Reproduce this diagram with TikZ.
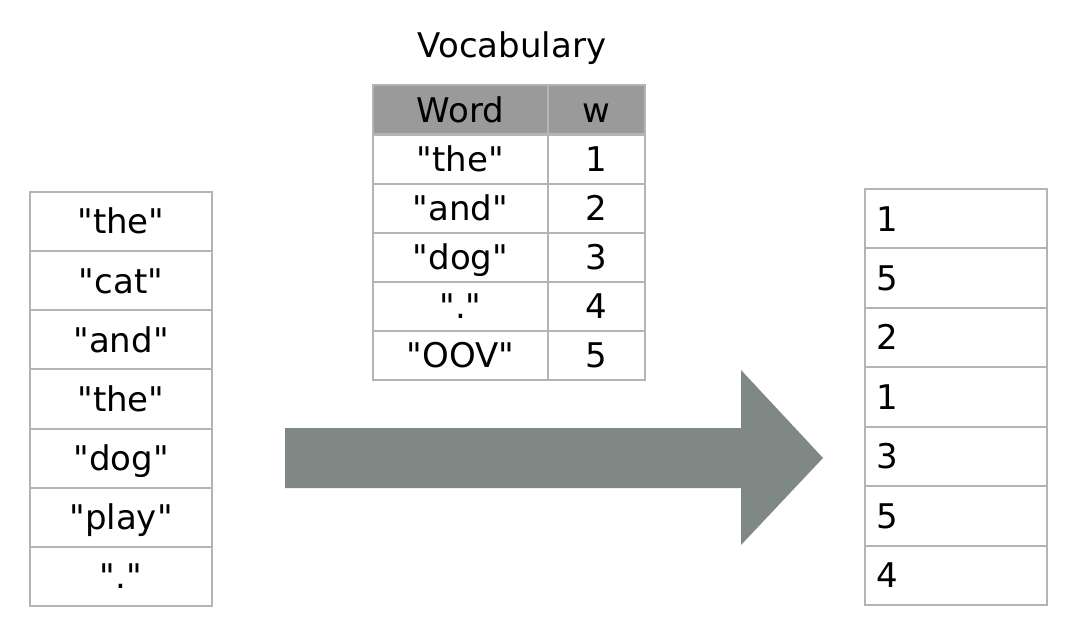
\documentclass[tikz,border=0pt]{standalone}
\usepackage{fontspec}
\setmainfont{DejaVu Sans}[Ligatures=TeXOff]
\definecolor{cellline}{HTML}{B4B4B4}
\definecolor{headfill}{HTML}{9A9A9A}
\definecolor{arrowfill}{HTML}{7F8885}
\newcommand{\qt}{\char34\relax}
\tikzset{
  txt/.style={font=\fontsize{34}{38}\selectfont, text height=24.8pt, text depth=0pt, inner sep=0pt},
  cell/.style={txt, draw=cellline, line width=2pt, minimum width=#1, minimum height=59.2pt},
  vcell/.style={txt, draw=cellline, line width=2pt, minimum width=#1, minimum height=49pt},
  numcell/.style={txt, draw=cellline, line width=2pt, text width=160pt, inner xsep=11pt, align=left, minimum height=59.4pt},
  head/.style={vcell=#1, fill=headfill},
  bigarrow/.style={fill=arrowfill, draw=none}
}
\begin{document}
\begin{tikzpicture}[x=1pt,y=-1pt]
\useasboundingbox[fill=white] (0,0) rectangle (1074,636);

% title
\node[txt] (title) at (512,45) {Vocabulary};

% vocabulary table
\node[head=175pt] (hw) at (460.5,110) {Word};
\node[head=97pt]  (hn) at (596.5,110) {w};
\node[vcell=175pt] (v1w) at (460.5,159.5) {\qt the\qt};
\node[vcell=97pt]  (v1n) at (596.5,159.5) {1};
\node[vcell=175pt] (v2w) at (460.5,208.5) {\qt and\qt};
\node[vcell=97pt]  (v2n) at (596.5,208.5) {2};
\node[vcell=175pt] (v3w) at (460.5,257.5) {\qt dog\qt};
\node[vcell=97pt]  (v3n) at (596.5,257.5) {3};
\node[vcell=175pt] (v4w) at (460.5,306.5) {\qt.\qt};
\node[vcell=97pt]  (v4n) at (596.5,306.5) {4};
\node[vcell=175pt] (v5w) at (460.5,355.5) {\qt OOV\qt};
\node[vcell=97pt]  (v5n) at (596.5,355.5) {5};

% left column (tokens)
\node[cell=182pt] (l1) at (121,221.6) {\qt the\qt};
\node[cell=182pt] (l2) at (121,280.7) {\qt cat\qt};
\node[cell=182pt] (l3) at (121,339.9) {\qt and\qt};
\node[cell=182pt] (l4) at (121,399.0) {\qt the\qt};
\node[cell=182pt] (l5) at (121,458.1) {\qt dog\qt};
\node[cell=182pt] (l6) at (121,517.3) {\qt play\qt};
\node[cell=182pt] (l7) at (121,576.4) {\qt.\qt};

% right column (ids)
\node[numcell] (r1) at (956,218.7) {1};
\node[numcell] (r2) at (956,278.1) {5};
\node[numcell] (r3) at (956,337.6) {2};
\node[numcell] (r4) at (956,397.0) {1};
\node[numcell] (r5) at (956,456.4) {3};
\node[numcell] (r6) at (956,515.9) {5};
\node[numcell] (r7) at (956,575.3) {4};

% big arrow
\coordinate (a0) at (285,428);
\coordinate (a1) at (741,428);
\coordinate (a2) at (741,370);
\coordinate (tip) at (823,458);
\coordinate (a3) at (741,545);
\coordinate (a4) at (741,488);
\coordinate (a5) at (285,488);
\path[bigarrow] (a0) -- (a1) -- (a2) -- (tip) -- (a3) -- (a4) -- (a5) -- cycle;
\end{tikzpicture}
\end{document}
